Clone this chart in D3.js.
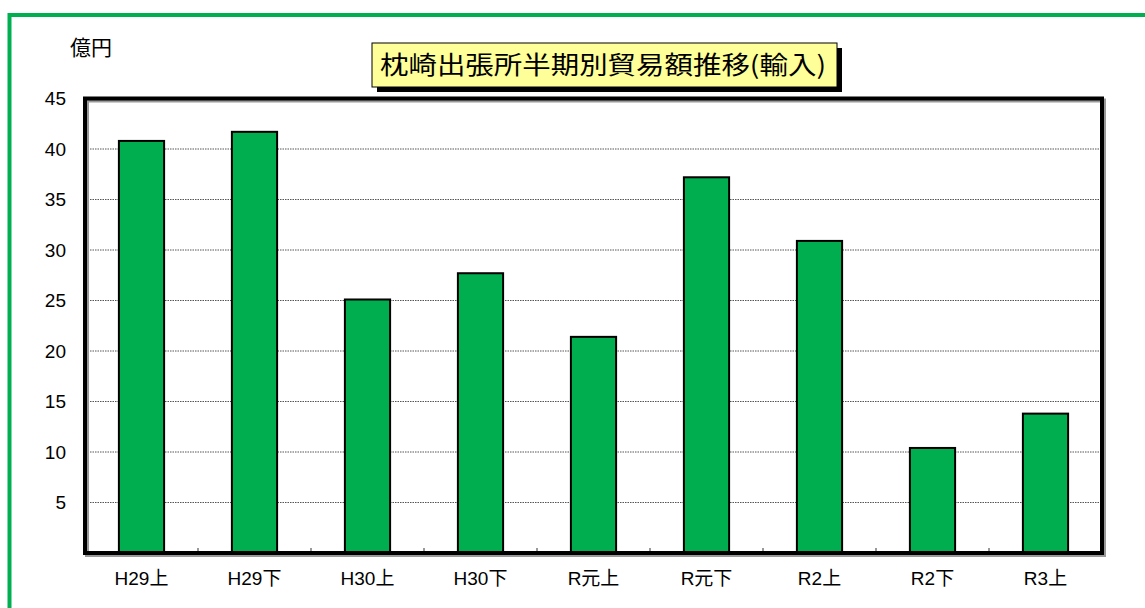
<!DOCTYPE html>
<html><head><meta charset="utf-8">
<script src="https://cdn.jsdelivr.net/npm/d3@7"></script>
<style>body{margin:0;background:#fff;}svg{display:block;font-family:"Liberation Sans",Arial,sans-serif;}</style>
</head><body>
<script>
const categories = ["H29上","H29下","H30上","H30下","R元上","R元下","R2上","R2下","R3上"];
const values = [40.8, 41.7, 25.1, 27.7, 21.4, 37.2, 30.9, 10.4, 13.8];
const yTicks = [5,10,15,20,25,30,35,40,45];
const titleText = "枕崎出張所半期別貿易額推移(輸入)";
const unitText = "億円";

const W = 1145, H = 608;
const svg = d3.select("body").append("svg").attr("width", W).attr("height", H);

// outer green frame
svg.append("rect").attr("x", 9.5).attr("y", 15).attr("width", W).attr("height", H)
  .attr("fill", "none").attr("stroke", "#00b050").attr("stroke-width", 4);

const L = 85, R = 1102, T = 98.5, B = 553;
const x = d3.scaleBand().domain(categories).range([L, R]).paddingInner(0).paddingOuter(0);
const y = d3.scaleLinear().domain([0, 45]).range([B, T]);

// gridlines
svg.append("g").selectAll("line").data(yTicks.filter(d => d < 45)).join("line")
  .attr("x1", L).attr("x2", R).attr("y1", d => y(d)).attr("y2", d => y(d))
  .attr("stroke", "#555").attr("stroke-width", 1).attr("stroke-dasharray", "1.5,1");

// category boundary ticks
svg.append("g").selectAll("line").data(categories.slice(1)).join("line")
  .attr("x1", d => x(d)).attr("x2", d => x(d)).attr("y1", B).attr("y2", B - 5)
  .attr("stroke", "#777").attr("stroke-width", 1.5);

// bars
const bw = x.bandwidth() * 0.4;
svg.append("g").selectAll("rect").data(categories).join("rect")
  .attr("x", d => x(d) + (x.bandwidth() - bw) / 2)
  .attr("y", (d, i) => y(values[i]))
  .attr("width", bw)
  .attr("height", (d, i) => B - y(values[i]))
  .attr("fill", "#00ad4f").attr("stroke", "#000").attr("stroke-width", 2);

// plot frame shadow + frame
svg.append("rect").attr("x", L + 2).attr("y", T + 2).attr("width", R - L).attr("height", B - T)
  .attr("fill", "none").attr("stroke", "#999").attr("stroke-width", 4);
svg.append("rect").attr("x", L).attr("y", T).attr("width", R - L).attr("height", B - T)
  .attr("fill", "none").attr("stroke", "#000").attr("stroke-width", 4);

// y axis labels
const yAxis = d3.axisLeft(y).tickValues(yTicks).tickSize(0).tickPadding(19);
const ga = svg.append("g").attr("transform", `translate(${L},0)`).call(yAxis);
ga.select(".domain").remove();
ga.attr("font-size", null).attr("font-family", null);
ga.selectAll("text").style("font-size", "19px").attr("fill", "#000")
  .style("font-family", '"Liberation Sans",Arial,sans-serif');

// x axis labels
const xAxis = d3.axisBottom(x).tickSize(0).tickPadding(19);
const gx = svg.append("g").attr("transform", `translate(0,${B})`).call(xAxis);
gx.select(".domain").remove();
gx.attr("font-size", null).attr("font-family", null);
gx.selectAll("text").style("font-size", "19px").attr("fill", "#000")
  .style("font-family", '"Liberation Sans","Noto Sans CJK JP",sans-serif');

// unit label
svg.append("text").attr("x", 70).attr("y", 55).text(unitText)
  .style("font-size", "21px").style("font-family", '"Noto Sans CJK JP",sans-serif');

// title box
const tb = {x: 372, y: 43, w: 465, h: 44};
svg.append("rect").attr("x", tb.x + 5).attr("y", tb.y + 5).attr("width", tb.w).attr("height", tb.h).attr("fill", "#000");
svg.append("rect").attr("x", tb.x).attr("y", tb.y).attr("width", tb.w).attr("height", tb.h)
  .attr("fill", "#ffff99").attr("stroke", "#000").attr("stroke-width", 1);
svg.append("text").attr("x", tb.x + 8).attr("y", tb.y + tb.h / 2 + 9).text(titleText)
  .style("font-size", "25px").attr("textLength", 446).attr("lengthAdjust", "spacingAndGlyphs")
  .style("font-family", '"Noto Sans CJK JP",sans-serif');
</script>
</body></html>
